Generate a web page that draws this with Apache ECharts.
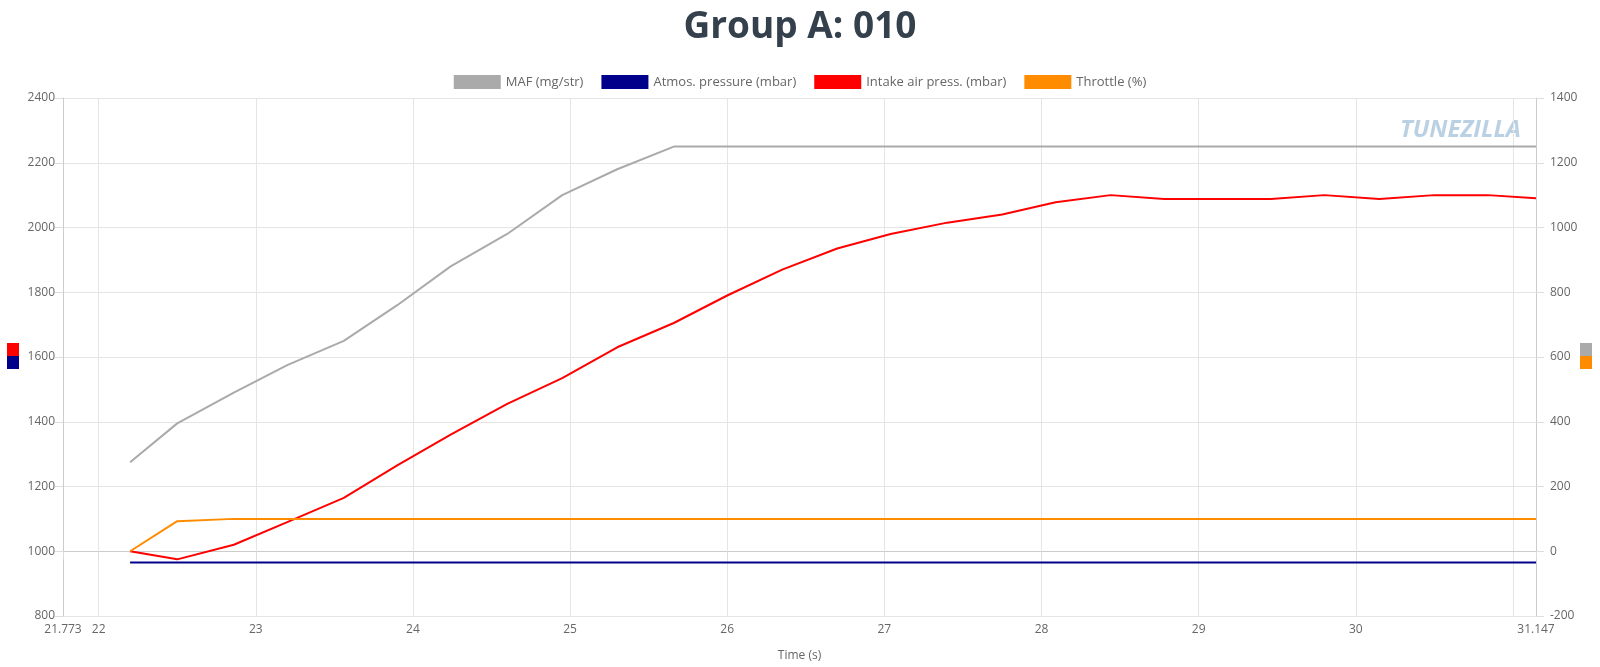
<!DOCTYPE html>
<html><head><meta charset="utf-8">
<script src="https://cdn.jsdelivr.net/npm/echarts@6/dist/echarts.min.js"></script>
<style>html,body{margin:0;padding:0;background:#fff;overflow:hidden}#c{width:1600px;height:667px}</style>
</head><body><div id="c"></div>
<script>
const times = [22.2,22.5,22.86,23.2,23.56,23.9,24.24,24.6,24.95,25.3,25.66,26.0,26.35,26.7,27.04,27.4,27.75,28.09,28.44,28.78,29.12,29.46,29.8,30.15,30.5,30.84,31.147];
const maf = [275,395,490,575,650,760,880,980,1100,1180,1250,1250,1250,1250,1250,1250,1250,1250,1250,1250,1250,1250,1250,1250,1250,1250,1250];
const atmos = [965,965,965,965,965,965,965,965,965,965,965,965,965,965,965,965,965,965,965,965,965,965,965,965,965,965,965];
const intake = [1000,975,1020,1090,1165,1265,1360,1455,1535,1630,1705,1790,1870,1935,1980,2015,2040,2078,2100,2088,2088,2088,2100,2088,2100,2100,2090];
const throttle = [0,93,100,100,100,100,100,100,100,100,100,100,100,100,100,100,100,100,100,100,100,100,100,100,100,100,100];
const pair = a => times.map((t,i)=>[t,a[i]]);
const ch = echarts.init(document.getElementById('c'));
const lbl = {color:'#666',fontFamily:'Open Sans',fontSize:12,formatter:v=>String(v)};
const ln = (name,data,color,yi,w)=>({name,type:'line',data:pair(data),yAxisIndex:yi,showSymbol:false,symbol:'none',lineStyle:{color,width:w||2},itemStyle:{color},animation:false});
ch.setOption({
  title:{text:'Group A: 010',left:'center',top:4,textStyle:{fontFamily:'Open Sans',fontSize:37,fontWeight:'bold',color:'#35404d'}},
  legend:{top:70,itemWidth:47,itemHeight:14,icon:'rect',itemGap:18,textStyle:{color:'#666',fontFamily:'Open Sans',fontSize:13},data:['MAF (mg/str)','Atmos. pressure (mbar)','Intake air press. (mbar)','Throttle (%)']},
  grid:{left:63,right:64,top:98,bottom:51},
  xAxis:{type:'value',min:21.773,max:31.147,splitNumber:10,name:'Time (s)',nameLocation:'middle',nameGap:34,nameTextStyle:{color:'#666',fontFamily:'Open Sans',fontSize:12},
    axisLabel:Object.assign({showMinLabel:true,showMaxLabel:true},lbl),axisLine:{lineStyle:{color:'#ccc'}},axisTick:{show:true,length:8,lineStyle:{color:'#ddd'}},splitLine:{lineStyle:{color:'#e5e5e5'}}},
  yAxis:[
    {type:'value',min:800,max:2400,interval:200,axisLabel:lbl,axisLine:{show:true,lineStyle:{color:'#ccc'}},axisTick:{show:true,length:8,lineStyle:{color:'#ddd'}},splitLine:{lineStyle:{color:'#e5e5e5'}}},
    {type:'value',min:-200,max:1400,interval:200,axisLabel:Object.assign({},lbl,{margin:14}),axisLine:{show:true,lineStyle:{color:'#ccc'}},axisTick:{show:true,length:8,lineStyle:{color:'#ddd'}},splitLine:{show:false}}
  ],
  series:[ln('MAF (mg/str)',maf,'#aaaaaa',1),ln('Atmos. pressure (mbar)',atmos,'#00008b',0),ln('Intake air press. (mbar)',intake,'#ff0000',0),ln('Throttle (%)',throttle,'#ff8c00',1)],
  graphic:[
    {type:'rect',left:7,top:343,shape:{width:12,height:13},style:{fill:'#ff0000'}},
    {type:'rect',left:7,top:356,shape:{width:12,height:13},style:{fill:'#00008b'}},
    {type:'rect',left:1580,top:343,shape:{width:12,height:13},style:{fill:'#aaaaaa'}},
    {type:'rect',left:1580,top:356,shape:{width:12,height:13},style:{fill:'#ff8c00'}},
    {type:'text',left:1400,top:118,style:{text:'TUNEZILLA',fill:'#a9c6dc',font:'italic bold 24px Open Sans',opacity:0.8}}
  ]
});
</script></body></html>
